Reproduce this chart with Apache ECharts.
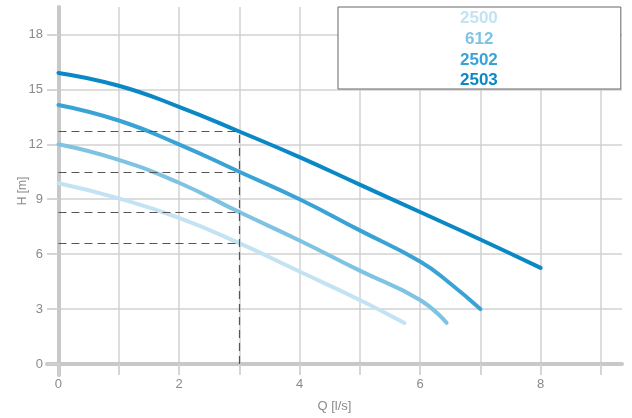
<!DOCTYPE html>
<html>
<head>
<meta charset="utf-8">
<script src="https://cdn.jsdelivr.net/npm/echarts@6/dist/echarts.min.js"></script>
<style>
  html, body { margin: 0; padding: 0; background: #fff; }
  #chart { width: 632px; height: 418px; }
</style>
</head>
<body>
<div id="chart"></div>
<script>
// pump curves, Q [l/s] -> H [m]
const pumpNames = ['2500', '612', '2502', '2503']
const pumpColors = ['#c3e3f2', '#7fc3e3', '#3aa3d6', '#0a88c6']

const q2500 = [0, 1, 2, 3, 4, 5, 5.74]
const h2500 = [9.87, 9.05, 7.98, 6.6, 5.05, 3.5, 2.24]
const q612 = [0, 1, 2, 3, 4, 5, 6, 6.44]
const h612 = [12.0, 11.15, 9.9, 8.3, 6.75, 5.1, 3.5, 2.25]
const q2502 = [0, 1, 2, 3, 4, 5, 6, 6.5, 7]
const h2502 = [14.15, 13.3, 12.0, 10.5, 9.0, 7.3, 5.6, 4.4, 3.0]
const q2503 = [0, 1, 2, 3, 4, 5, 6, 7, 8]
const h2503 = [15.9, 15.2, 14.05, 12.7, 11.3, 9.8, 8.3, 6.8, 5.25]

// duty point reading lines
const dutyQ = 3
const dutyH = [12.7, 10.5, 8.3, 6.6]

const xTicks = [0, 1, 2, 3, 4, 5, 6, 7, 8, 9]
const xLabels = [0, 2, 4, 6, 8]
const yTicks = [0, 3, 6, 9, 12, 15, 18]

const curves = [[q2500, h2500], [q612, h612], [q2502, h2502], [q2503, h2503]]

const gridLine = { color: '#d2d2d2', width: 1.5 }
const axisText = { color: '#8a8a8a', fontSize: 13, fontFamily: 'Liberation Sans, Arial, sans-serif' }

const chart = echarts.init(document.getElementById('chart'))

const series = curves.map(([q, h], i) => ({
  name: pumpNames[i],
  type: 'line',
  data: q.map((x, j) => [x, h[j]]),
  smooth: true,
  showSymbol: false,
  z: 3,
  lineStyle: { color: pumpColors[i], width: 4, cap: 'round' },
  itemStyle: { color: pumpColors[i] },
}))

series.unshift({
  name: 'duty',
  type: 'line',
  data: [],
  z: 2,
  markLine: {
    silent: true,
    symbol: ['none', 'none'],
    label: { show: false },
    lineStyle: { type: [8, 5], color: '#555', width: 1.2 },
    data: [
      ...dutyH.map(h => [{ coord: [0, h] }, { coord: [dutyQ, h] }]),
      [{ coord: [dutyQ, 0] }, { coord: [dutyQ, dutyH[0]] }],
    ],
  },
})

chart.setOption({
  animation: false,
  grid: { left: 47, right: 10, top: 7, bottom: 43, containLabel: false, outerBoundsMode: 'none' },
  legend: {
    orient: 'vertical',
    left: 338,
    top: 7,
    icon: 'none',
    itemWidth: 0,
    itemHeight: 17,
    itemGap: 3.67,
    padding: [3, 123, 0, 117],
    backgroundColor: '#fff',
    borderColor: '#666',
    borderWidth: 1,
    selectedMode: false,
    textStyle: { fontSize: 17, fontWeight: 'bold', fontFamily: 'Liberation Sans, Arial, sans-serif' },
    data: pumpNames.map((n, i) => ({
      name: n,
      textStyle: { color: pumpColors[i], padding: n === '612' ? [0, 0, 0, 5] : 0 },
    })),
  },
  xAxis: {
    type: 'value',
    min: -0.19,
    max: 9.35,
    name: 'Q [l/s]',
    nameLocation: 'middle',
    nameGap: 25,
    nameMoveOverlap: false,
    nameTextStyle: axisText,
    axisLine: { onZero: true, lineStyle: { color: '#c8c8c8', width: 4 } },
    axisTick: { show: true, length: 11, customValues: xTicks, lineStyle: gridLine },
    axisLabel: { ...axisText, margin: 3, customValues: xLabels },
    splitLine: { show: true, lineStyle: gridLine },
  },
  yAxis: {
    type: 'value',
    min: -0.6,
    max: 19.5,
    name: 'H [m]',
    nameLocation: 'middle',
    nameGap: 18,
    nameMoveOverlap: false,
    nameTextStyle: { ...axisText, fontSize: 12 },
    axisLine: { show: true, onZero: true, lineStyle: { color: '#c8c8c8', width: 4 } },
    axisTick: { show: true, length: 11, customValues: yTicks, lineStyle: gridLine },
    axisLabel: { ...axisText, margin: 4, customValues: yTicks },
    splitLine: { show: true, lineStyle: gridLine },
  },
  series,
})

window.addEventListener('resize', () => chart.resize())
</script>
</body>
</html>
